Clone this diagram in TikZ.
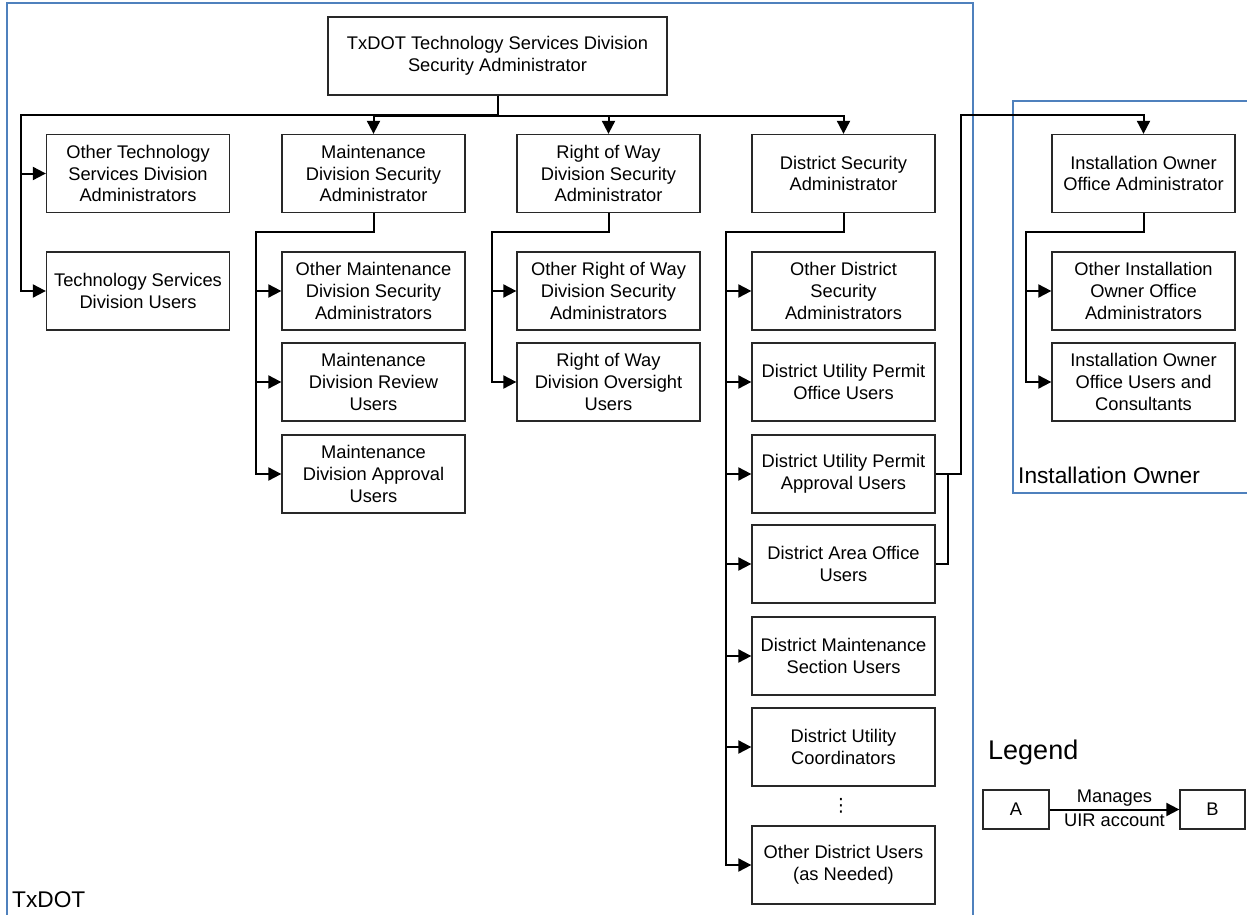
\documentclass[tikz,border=0pt]{standalone}
\usepackage{fontspec}
\setmainfont{Liberation Sans}
\newfontfamily\symfont{DejaVu Sans}
\usetikzlibrary{arrows.meta}
\definecolor{frameblue}{RGB}{79,129,189}
\definecolor{boxline}{RGB}{40,40,40}
\begin{document}
\begin{tikzpicture}[x=1pt,y=-1pt,
  box/.style={draw=boxline, line width=1.3pt, minimum width=183pt, minimum height=78pt, align=center, inner sep=2pt, font=\fontsize{18.3}{21.7}\selectfont},
  conn/.style={line width=2pt, -{Triangle[length=13pt,width=13pt]}},
  plainline/.style={line width=2pt},
  frm/.style={draw=frameblue, line width=1.6pt},
  flabel/.style={anchor=west, inner sep=0pt, font=\fontsize{22.7}{26}\selectfont},
  lbl/.style={inner sep=0pt, font=\fontsize{18.3}{21.7}\selectfont}]
\useasboundingbox (0,0) rectangle (1247,915);
\clip (0,0) rectangle (1247,915);
\fill[white] (0,0) rectangle (1247,915);
% frames
\draw[frm] (7,3) rectangle (973,940);
\draw[frm] (1013,101) rectangle (1260,493);
\node[flabel] (txlabel) at (12,900) {TxDOT};
\node[flabel] (iolabel) at (1018,475) {Installation Owner};
% nodes
\node[box, minimum width=339pt] (top) at (497.5,56) {TxDOT Technology Services Division\\Security Administrator};
\node[box] (ots) at (138,173.5) {Other Technology\\Services Division\\Administrators};
\node[box] (tsu) at (138,291) {Technology Services\\Division Users};
\node[box] (mdsa) at (373.5,173.5) {Maintenance\\Division Security\\Administrator};
\node[box] (omd) at (373.5,291) {Other Maintenance\\Division Security\\Administrators};
\node[box] (mdr) at (373.5,382) {Maintenance\\Division Review\\Users};
\node[box] (mda) at (373.5,474) {Maintenance\\Division Approval\\Users};
\node[box] (rwsa) at (608.5,173.5) {Right of Way\\Division Security\\Administrator};
\node[box] (orw) at (608.5,291) {Other Right of Way\\Division Security\\Administrators};
\node[box] (rwo) at (608.5,382) {Right of Way\\Division Oversight\\Users};
\node[box] (dsa) at (843.5,173.5) {District Security\\Administrator};
\node[box] (ods) at (843.5,291) {Other District\\Security\\Administrators};
\node[box] (dupo) at (843.5,382) {District Utility Permit\\Office Users};
\node[box] (dupa) at (843.5,474) {District Utility Permit\\Approval Users};
\node[box] (dao) at (843.5,564) {District Area Office\\Users};
\node[box] (dms) at (843.5,656) {District Maintenance\\Section Users};
\node[box] (duc) at (843.5,747) {District Utility\\Coordinators};
\node[lbl] (vdots) at (841,806) {\symfont ⋮};
\node[box] (odu) at (843.5,865) {Other District Users\\(as Needed)};
\node[box] (ioa) at (1143.5,173.5) {Installation Owner\\Office Administrator};
\node[box] (oio) at (1143.5,291) {Other Installation\\Owner Office\\Administrators};
\node[box] (iou) at (1143.5,382) {Installation Owner\\Office Users and\\Consultants};
% coordinates
\coordinate (lbus) at (21,115);
\coordinate (mbus) at (256,232);
\coordinate (rbus) at (492,232);
\coordinate (dbus) at (726,232);
\coordinate (ibus) at (1026,232);
\coordinate (irise) at (961,115);
\coordinate (ajoin) at (948,474);
% top level
\draw[conn] (top.south) |- (lbus) |- (ots.west);
\draw[conn] (top.south) |- (lbus) |- (tsu.west);
\draw[conn] (top.south) -- ++(0,20) -| (mdsa.north);
\draw[conn] (top.south) -- ++(0,20) -| (rwsa.north);
\draw[conn] (top.south) -- ++(0,20) -| (dsa.north);
% maintenance
\foreach \n in {omd,mdr,mda} \draw[conn] (mdsa.south) |- (mbus) |- (\n.west);
% right of way
\foreach \n in {orw,rwo} \draw[conn] (rwsa.south) |- (rbus) |- (\n.west);
% district
\foreach \n in {ods,dupo,dupa,dao,dms,duc,odu} \draw[conn] (dsa.south) |- (dbus) |- (\n.west);
% installation owner
\foreach \n in {oio,iou} \draw[conn] (ioa.south) |- (ibus) |- (\n.west);
% district to installation owner
\draw[conn] (dupa.east) -| (irise) -| (ioa.north);
\draw[plainline] (dao.east) -| (ajoin);
% legend
\node[anchor=west, inner sep=0pt, font=\fontsize{27}{30}\selectfont] (legend) at (988,753) {Legend};
\node[box, minimum width=66pt, minimum height=39pt] (lega) at (1016,809.5) {A};
\node[box, minimum width=65pt, minimum height=39pt] (legb) at (1212.5,809.5) {B};
\draw[conn] (lega) -- (legb) node[lbl, midway, yshift=11pt] (lman) {Manages} node[lbl, midway, yshift=-11pt] (luir) {UIR account};
\end{tikzpicture}
\end{document}
